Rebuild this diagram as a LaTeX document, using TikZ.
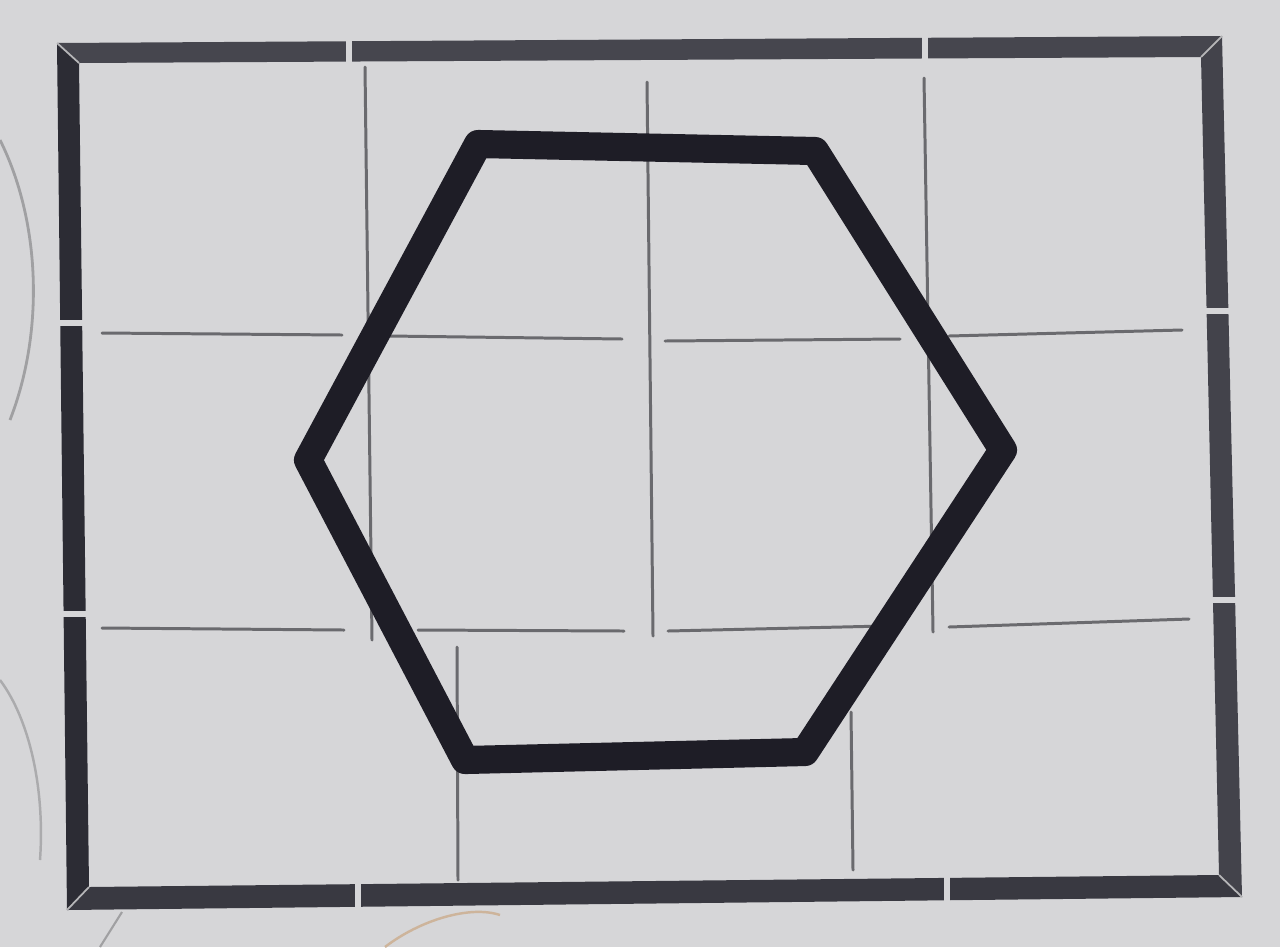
\documentclass[tikz,border=0pt]{standalone}
\begin{document}
\begin{tikzpicture}[x=0.02cm,y=-0.02cm,
  gridline/.style={draw=gridc,line width=1.7pt,line cap=round},
  gapline/.style={draw=paperc,line width=3.6pt},
  mitre/.style={draw=paperc!85!black,line width=1pt},
  hexline/.style={draw=hexc,line width=16pt,line join=round,line cap=round}]
\definecolor{paperc}{HTML}{D6D6D8}
\definecolor{gridc}{HTML}{6A6A6E}
\definecolor{hexc}{HTML}{1E1D26}
\definecolor{topc}{HTML}{46464E}
\definecolor{rightc}{HTML}{43434B}
\definecolor{botc}{HTML}{393941}
\definecolor{leftc}{HTML}{2C2C34}
\useasboundingbox (0,0) rectangle (1280,947);
\fill[paperc] (0,0) rectangle (1280,947);
% faint photo curves
\draw[paperc!75!black,line width=1.6pt] (0,140) .. controls (40,220) and (45,330) .. (10,420);
\draw[paperc!80!black,line width=1.4pt] (0,680) .. controls (30,720) and (45,790) .. (40,860);
\draw[paperc!75!black,line width=1.2pt] (100,947) -- (122,912);
\draw[paperc!60!brown,line width=1.4pt] (385,947) .. controls (420,920) and (470,905) .. (500,915);
% frame corners
\coordinate (oTL) at (57,43);  \coordinate (oTR) at (1222,36);
\coordinate (oBR) at (1242,897); \coordinate (oBL) at (67,910);
\coordinate (iTL) at (79,63);  \coordinate (iTR) at (1201,57);
\coordinate (iBR) at (1219,875); \coordinate (iBL) at (89,887);
\fill[topc]   (oTL) -- (oTR) -- (iTR) -- (iTL) -- cycle;
\fill[rightc] (oTR) -- (oBR) -- (iBR) -- (iTR) -- cycle;
\fill[botc]   (oBR) -- (oBL) -- (iBL) -- (iBR) -- cycle;
\fill[leftc]  (oBL) -- (oTL) -- (iTL) -- (iBL) -- cycle;
\draw[mitre] (oTL) -- (iTL);
\draw[mitre] (oTR) -- (iTR);
\draw[mitre] (oBR) -- (iBR);
\draw[mitre] (oBL) -- (iBL);
% gaps in frame
\draw[gapline] (349,30) -- (349,75);
\draw[gapline] (925,28) -- (925,72);
\draw[gapline] (45,323) -- (95,323);
\draw[gapline] (45,614) -- (95,614);
\draw[gapline] (1190,311) -- (1235,311);
\draw[gapline] (1195,600) -- (1245,600);
\draw[gapline] (358,875) -- (358,920);
\draw[gapline] (947,865) -- (947,912);
% grid lines
\coordinate (h1a) at (102,333); \coordinate (h1b) at (342,335);
\coordinate (h2a) at (389,336); \coordinate (h2b) at (622,339);
\coordinate (h3a) at (665,341); \coordinate (h3b) at (900,339);
\coordinate (h4a) at (949,336); \coordinate (h4b) at (1182,330);
\coordinate (g1a) at (102,628); \coordinate (g1b) at (344,630);
\coordinate (g2a) at (418,630); \coordinate (g2b) at (624,631);
\coordinate (g3a) at (668,631); \coordinate (g3b) at (885,626);
\coordinate (g4a) at (949,627); \coordinate (g4b) at (1189,619);
\draw[gridline] (h1a) -- (h1b); \draw[gridline] (h2a) -- (h2b);
\draw[gridline] (h3a) -- (h3b); \draw[gridline] (h4a) -- (h4b);
\draw[gridline] (g1a) -- (g1b); \draw[gridline] (g2a) -- (g2b);
\draw[gridline] (g3a) -- (g3b); \draw[gridline] (g4a) -- (g4b);
\coordinate (v1a) at (365,67);  \coordinate (v1b) at (372,640);
\coordinate (v2a) at (647,82);  \coordinate (v2b) at (653,636);
\coordinate (v3a) at (924,78);  \coordinate (v3b) at (933,632);
\coordinate (v4a) at (457,647); \coordinate (v4b) at (458,880);
\coordinate (v5a) at (851,712); \coordinate (v5b) at (853,870);
\draw[gridline] (v1a) -- (v1b); \draw[gridline] (v2a) -- (v2b);
\draw[gridline] (v3a) -- (v3b); \draw[gridline] (v4a) -- (v4b);
\draw[gridline] (v5a) -- (v5b);
% hexagon
\coordinate (p1) at (478,144); \coordinate (p2) at (815,151);
\coordinate (p3) at (1003,450); \coordinate (p4) at (805,752);
\coordinate (p5) at (465,760); \coordinate (p6) at (308,460);
\draw[hexline] (p1) -- (p2) -- (p3) -- (p4) -- (p5) -- (p6) -- cycle;
\end{tikzpicture}
\end{document}
